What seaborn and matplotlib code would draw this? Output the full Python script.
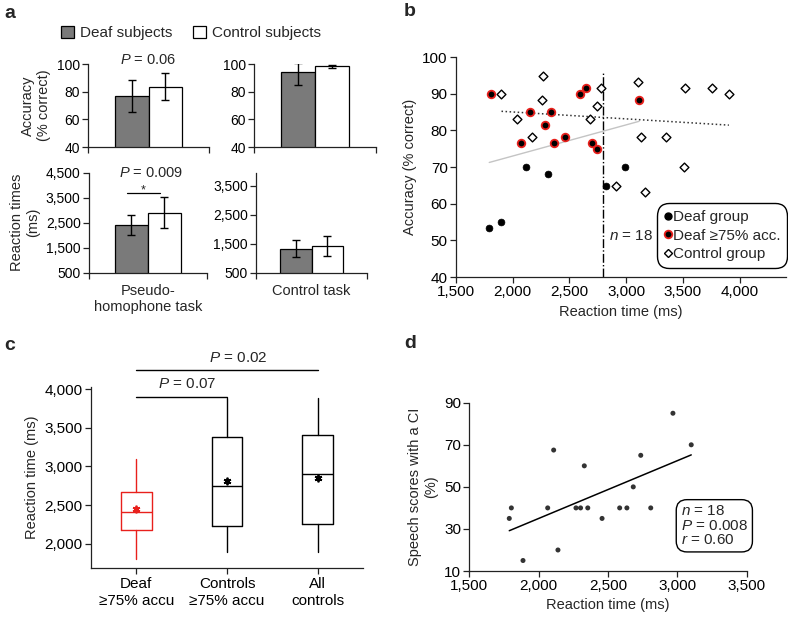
import numpy as np
import pandas as pd
import matplotlib
matplotlib.use('Agg')
import matplotlib.pyplot as plt
import seaborn as sns
from matplotlib.patches import Patch
from matplotlib.lines import Line2D
from matplotlib.ticker import FuncFormatter

# ---- panel a: bar means and error-bar limits ----
tasks = ['Pseudo-\nhomophone task', 'Control task']
groups = ['Deaf subjects', 'Control subjects']
acc_deaf = [76.6, 94.2]
acc_ctrl = [83.6, 98.3]
acc_deaf_lo = [65.1, 84.6]
acc_deaf_hi = [88.2, 100.5]
acc_ctrl_lo = [73.8, 97.4]
acc_ctrl_hi = [93.7, 99.5]
rt_deaf = [2410, 1320]
rt_ctrl = [2900, 1435]
rt_deaf_lo = [2020, 1035]
rt_deaf_hi = [2795, 1630]
rt_ctrl_lo = [2290, 1080]
rt_ctrl_hi = [3515, 1770]

# ---- panel b: accuracy vs reaction time ----
deaf_low_rt = [1793, 1893, 2116, 2312, 2820, 2987]
deaf_low_acc = [53.3, 54.9, 69.9, 68.2, 64.8, 70.0]
deaf75_rt = [1808, 2072, 2149, 2283, 2339, 2363, 2465, 2595, 2648, 2695, 2747, 3114]
deaf75_acc = [90.0, 76.5, 85.0, 81.5, 85.0, 76.5, 78.2, 90.0, 91.5, 76.5, 75.0, 88.3]
ctrl_rt = [1901, 2042, 2169, 2263, 2257, 2680, 2739, 2776, 2908, 3102, 3131,
           3169, 3355, 3514, 3519, 3754, 3906]
ctrl_acc = [90.0, 83.2, 78.2, 94.9, 88.3, 83.2, 86.6, 91.5, 64.8, 93.3, 78.2,
            63.2, 78.2, 70.0, 91.5, 91.5, 90.0]

# ---- panel c: box summaries ----
box_labels = ['Deaf\n≥75% accu', 'Controls\n≥75% accu', 'All\ncontrols']
box_min = [1800, 1890, 1890]
box_q1 = [2170, 2227, 2253]
box_med = [2405, 2743, 2900]
box_q3 = [2670, 3383, 3414]
box_max = [3095, 3883, 3883]
box_mean = [2450, 2808, 2845]

# ---- panel d: speech scores vs reaction time ----
ci_rt = [1788, 1803, 1887, 2065, 2108, 2139, 2269, 2302, 2329, 2354, 2457,
         2584, 2636, 2682, 2736, 2808, 2968, 3100]
ci_score = [35, 40, 15, 40, 67.5, 20, 40, 40, 60, 40, 35, 40, 40, 50, 65, 40, 85, 70]

sns.set_style('ticks')
plt.rcParams['font.family'] = ['Liberation Sans', 'DejaVu Sans']
plt.rcParams['mathtext.fontset'] = 'custom'
plt.rcParams['mathtext.it'] = 'Liberation Sans:italic'
plt.rcParams['mathtext.rm'] = 'Liberation Sans'
plt.rcParams['axes.linewidth'] = 0.9
plt.rcParams['axes.edgecolor'] = '#222222'

gray = '#7a7a7a'
red = '#e8201c'
comma = FuncFormatter(lambda v, p: f'{v:,.0f}')

fig = plt.figure(figsize=(7.88, 6.19), dpi=100)


def style(ax, size):
    sns.despine(ax=ax)
    ax.tick_params(labelsize=size, length=4, width=0.9, colors='#222222',
                   labelcolor='black', pad=2)


def bar_panel(ax, ti, means, los, his, ylim, yticks):
    df = pd.DataFrame({'task': [tasks[ti]] * 2, 'group': groups, 'value': means})
    sns.barplot(data=df, x='task', y='value', hue='group', hue_order=groups,
                palette=[gray, 'white'], edgecolor='black', linewidth=0.9,
                width=0.56, errorbar=None, legend=False, ax=ax)
    for cont, m, lo, hi in zip(ax.containers, means, los, his):
        x = cont[0].get_x() + cont[0].get_width() / 2
        ax.errorbar(x, m, yerr=[[m - lo], [hi - m]], color='black', lw=1,
                    capsize=3, capthick=1)
    ax.set_ylim(*ylim)
    ax.set_yticks(yticks)
    ax.yaxis.set_major_formatter(comma)
    ax.set_xlim(-0.5, 0.5)
    ax.set_xticks([-0.5, 0.5])
    ax.set_xticklabels(['', ''])
    ax.set_xlabel('')
    ax.set_ylabel('')
    style(ax, 10)


# panel a
ax1 = fig.add_axes([0.1117, 0.7625, 0.1536, 0.1341])
bar_panel(ax1, 0, [acc_deaf[0], acc_ctrl[0]], [acc_deaf_lo[0], acc_ctrl_lo[0]],
          [acc_deaf_hi[0], acc_ctrl_hi[0]], (40, 100), [40, 60, 80, 100])
ax1.set_ylabel('Accuracy\n(% correct)', fontsize=10.5, labelpad=4)
ax1.text(0.5, 1.045, '$P$ = 0.06', transform=ax1.transAxes, ha='center',
         va='center', fontsize=10.5)

ax2 = fig.add_axes([0.3223, 0.7625, 0.1548, 0.1341])
bar_panel(ax2, 1, [acc_deaf[1], acc_ctrl[1]], [acc_deaf_lo[1], acc_ctrl_lo[1]],
          [acc_deaf_hi[1], acc_ctrl_hi[1]], (40, 100), [40, 60, 80, 100])

ax3 = fig.add_axes([0.1129, 0.5594, 0.1497, 0.1616])
bar_panel(ax3, 0, [rt_deaf[0], rt_ctrl[0]], [rt_deaf_lo[0], rt_ctrl_lo[0]],
          [rt_deaf_hi[0], rt_ctrl_hi[0]], (500, 4500), [500, 1500, 2500, 3500, 4500])
ax3.set_ylabel('Reaction times\n(ms)', fontsize=10.5, labelpad=4)
ax3.set_xlabel(tasks[0], fontsize=10.5, labelpad=2)
ax3.text(0.523, 1.0, '$P$ = 0.009', transform=ax3.transAxes, ha='center',
         va='center', fontsize=10.5)
ax3.plot([-0.178, 0.102], [3680, 3680], color='black', lw=0.9)
ax3.text(-0.04, 3780, '*', ha='center', va='center', fontsize=9)

ax4 = fig.add_axes([0.3249, 0.5594, 0.1409, 0.1616])
bar_panel(ax4, 1, [rt_deaf[1], rt_ctrl[1]], [rt_deaf_lo[1], rt_ctrl_lo[1]],
          [rt_deaf_hi[1], rt_ctrl_hi[1]], (500, 3960), [500, 1500, 2500, 3500])
ax4.set_xlabel(tasks[1], fontsize=10.5, labelpad=2)

fig.legend([Patch(fc=gray, ec='black', lw=0.9), Patch(fc='white', ec='black', lw=0.9)],
           groups, loc='center', bbox_to_anchor=(191 / 788, 1 - 33 / 619), ncol=2,
           frameon=False, fontsize=11, handlelength=0.9, handleheight=0.9,
           handletextpad=0.4, columnspacing=1.3)

# panel b
axb = fig.add_axes([0.5787, 0.5525, 0.4188, 0.3554])
sns.regplot(x=deaf_low_rt + deaf75_rt, y=deaf_low_acc + deaf75_acc, scatter=False,
            ci=None, truncate=True, line_kws=dict(color='#c4c4c4', lw=1), ax=axb)
sns.regplot(x=ctrl_rt, y=ctrl_acc, scatter=False, ci=None, truncate=True,
            line_kws=dict(color='#333333', lw=1.1, ls=':'), ax=axb)
axb.plot([2800, 2800], [40, 96], color='black', lw=1, ls='-.')
sns.scatterplot(x=ctrl_rt, y=ctrl_acc, marker='D', s=20, color='white',
                edgecolor='black', linewidth=1, ax=axb, zorder=3)
sns.scatterplot(x=deaf_low_rt, y=deaf_low_acc, marker='o', s=24, color='black',
                edgecolor='black', linewidth=0.5, ax=axb, zorder=3)
sns.scatterplot(x=deaf75_rt, y=deaf75_acc, marker='o', s=30, color='black',
                edgecolor=red, linewidth=1.3, ax=axb, zorder=3)
axb.set_xlim(1500, 4410)
axb.set_ylim(40, 100)
axb.set_xticks([1500, 2000, 2500, 3000, 3500, 4000])
axb.set_yticks([40, 50, 60, 70, 80, 90, 100])
axb.xaxis.set_major_formatter(comma)
axb.set_xlabel('Reaction time (ms)', fontsize=10.5, labelpad=4)
axb.set_ylabel('Accuracy (% correct)', fontsize=10.5, labelpad=4)
style(axb, 11)
axb.text(2845, 51.2, '$n$ = 18', fontsize=11, ha='left', va='center')
hb = [Line2D([], [], ls='none', marker='o', ms=5, mfc='black', mec='black'),
      Line2D([], [], ls='none', marker='o', ms=5.5, mfc='black', mec=red, mew=1.3),
      Line2D([], [], ls='none', marker='D', ms=4.5, mfc='white', mec='black', mew=1)]
leg = axb.legend(hb, ['Deaf group', 'Deaf ≥75% acc.', 'Control group'],
                 loc='lower right', bbox_to_anchor=(0.997, 0.05), fancybox=True,
                 framealpha=1, edgecolor='black', handlelength=0.5,
                 handletextpad=0.1, labelspacing=0.3, borderpad=0.3,
                 borderaxespad=0, fontsize=11)
leg.get_frame().set_linewidth(1)
leg.get_frame().set_boxstyle('round,pad=0.15,rounding_size=0.8')

# panel c
axc = fig.add_axes([0.1155, 0.0819, 0.3452, 0.2929])
for i in range(3):
    col = red if i == 0 else 'black'
    st = dict(whislo=box_min[i], q1=box_q1[i], med=box_med[i], q3=box_q3[i],
              whishi=box_max[i], mean=box_mean[i], label=box_labels[i])
    axc.bxp([st], positions=[i], widths=0.34, showcaps=False, showfliers=False,
            showmeans=True,
            boxprops=dict(color=col, lw=1), whiskerprops=dict(color=col, lw=1),
            medianprops=dict(color=col, lw=1),
            meanprops=dict(marker=(6, 2, 0), mfc=col, mec=col, ms=5.5, mew=1.3))
axc.set_xlim(-0.5, 2.5)
axc.set_xticks([0, 1, 2])
axc.set_xticklabels(box_labels, fontsize=11, linespacing=1.3)
axc.set_ylim(1680, 4030)
axc.set_yticks([2000, 2500, 3000, 3500, 4000])
axc.yaxis.set_major_formatter(comma)
axc.set_ylabel('Reaction time (ms)', fontsize=10.5, labelpad=4)
style(axc, 11)
axc.plot([0, 1], [3904, 3904], color='black', lw=1, clip_on=False)
axc.plot([0, 2], [4252, 4252], color='black', lw=1, clip_on=False)
axc.text(0.56, 4075, '$P$ = 0.07', fontsize=11, ha='center', va='center')
axc.text(1.12, 4400, '$P$ = 0.02', fontsize=11, ha='center', va='center')

# panel d
axd = fig.add_axes([0.5956, 0.0775, 0.352, 0.2719])
sns.regplot(x=ci_rt, y=ci_score, ci=None, truncate=True,
            scatter_kws=dict(s=13, color='black', edgecolor='none'),
            line_kws=dict(color='black', lw=1.1), ax=axd)
axd.set_xlim(1500, 3500)
axd.set_ylim(10, 90)
axd.set_xticks([1500, 2000, 2500, 3000, 3500])
axd.set_yticks([10, 30, 50, 70, 90])
axd.xaxis.set_major_formatter(comma)
axd.set_xlabel('Reaction time (ms)', fontsize=10.5, labelpad=3)
axd.set_ylabel('Speech scores with a CI\n(%)', fontsize=10.5, labelpad=4)
style(axd, 11)
axd.text(3025, 31.5, '$n$ = 18\n$P$ = 0.008\n$r$ = 0.60', fontsize=11,
         ha='left', va='center', linespacing=1.05,
         bbox=dict(boxstyle='round,pad=0.3,rounding_size=0.7', fc='white',
                   ec='black', lw=1))

# panel letters
for lab, x, y in [('a', 4, 14), ('b', 404, 12), ('c', 4, 345), ('d', 404, 344)]:
    fig.text(x / 788, 1 - y / 619, lab, fontsize=14, fontweight='bold',
             ha='left', va='center')

fig.savefig('out.png', dpi=100)
